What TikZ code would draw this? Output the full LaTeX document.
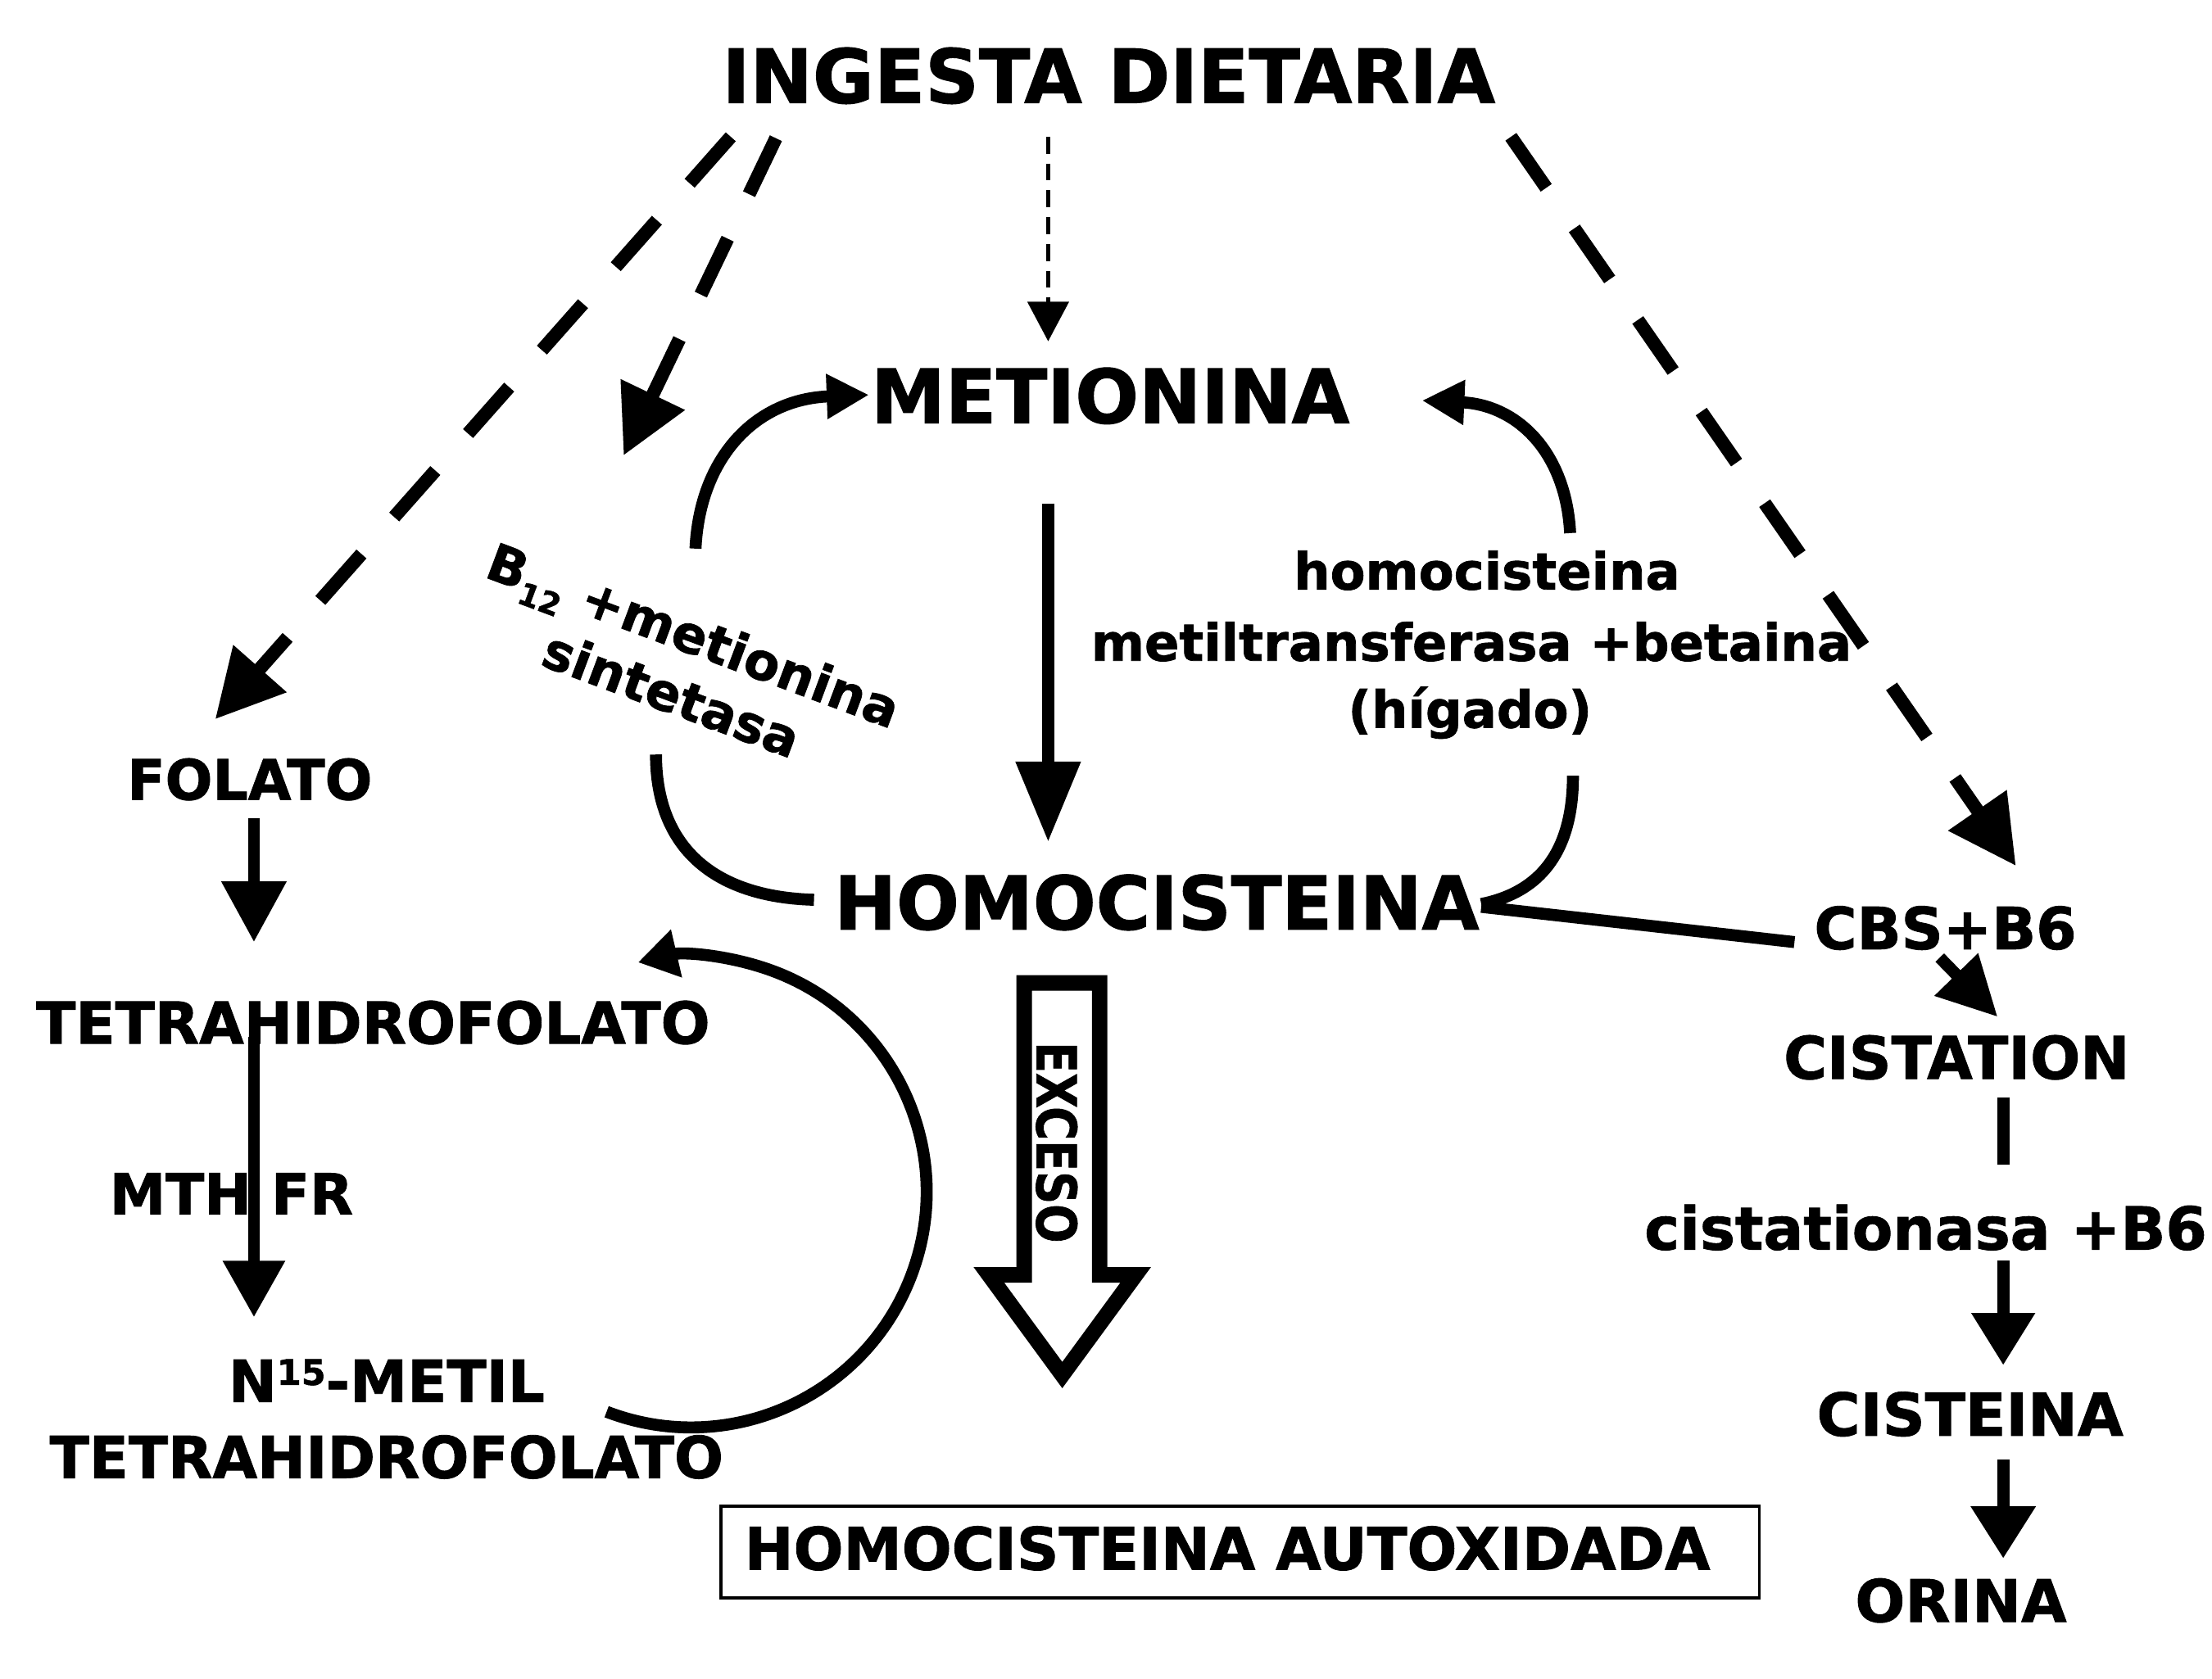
\documentclass[tikz,border=0pt]{standalone}
\usepackage{fontspec}
\setmainfont{DejaVu Sans}[BoldFeatures={FakeBold=1.2}]
\usetikzlibrary{arrows.meta}
\newcommand\fs[1]{\bfseries\fontsize{#1}{#1}\selectfont}
\begin{document}
\begin{tikzpicture}[x=1pt,y=1pt,
  lbl/.style={inner sep=0pt, anchor=base, font=\fs{#1}},
  flow/.style={line width=8.5pt},
  bigdash/.style={line width=9.5pt, dash pattern=on 44pt off 35pt, -{Triangle[length=48pt,width=48pt]}},
  thindash/.style={line width=2.5pt, dash pattern=on 12pt off 7pt, -{Triangle[length=28pt,width=29pt]}},
  curvearr/.style={line width=8.5pt, -{Triangle[length=30pt,width=30pt]}},
]
\fill[white] (0,0) rectangle (1568,-1190);
\useasboundingbox (0,0) rectangle (1568,-1190);

% ---- text nodes
\node[lbl=53] (ing) at (786,-73) {INGESTA DIETARIA};
\node[lbl=53] (met) at (787,-300) {METIONINA};
\node[lbl=52.5] (hom) at (820,-659) {HOMOCISTEINA};
\node[lbl=39.5] (fol) at (177,-567) {FOLATO};
\node[lbl=41] (thf) at (264.5,-740) {TETRAHIDROFOLATO};
\node[lbl=40] (mthfr) at (164,-861) {MTH FR};
\node[lbl=41] (nmet) at (274,-994) {N\raisebox{12pt}{\fs{25}15}-METIL};
\node[lbl=41] (mthf) at (274,-1048) {TETRAHIDROFOLATO};
\node[inner sep=0pt, rotate=-20.5, align=center, font=\bfseries\fontsize{36.5}{44.6}\selectfont] (b12)
  at (484,-471) {B\raisebox{-9pt}{\fs{22}12} +metionina\\sintetasa};
\node[lbl=36.3] (hA) at (1054,-418) {homocisteina};
\node[lbl=36.3] (hB) at (1043,-468.5) {metiltransferasa +betaina};
\node[lbl=36.3] (hC) at (1042,-516) {(hígado)};
\node[lbl=41.2] (cbs) at (1379,-673) {CBS+B6};
\node[lbl=41.8] (cist) at (1387,-765) {CISTATION};
\node[lbl=42] (cnasa) at (1365,-886) {cistationasa +B6};
\node[lbl=42] (cis) at (1396.5,-1018) {CISTEINA};
\node[lbl=41.6] (ori) at (1390,-1150) {ORINA};
\node[draw, line width=2pt, inner sep=0pt, minimum width=736pt, minimum height=65pt] (autbox) at (879,-1100.5) {};
\node[lbl=41.6] (aut) at (870,-1113) {HOMOCISTEINA AUTOXIDADA};

% ---- dashed arrows from the diet
\coordinate (dL1) at (518,-97);   \coordinate (dL2) at (152.5,-510);
\coordinate (dM1) at (550,-98);   \coordinate (dM2) at (442,-323);
\coordinate (dC1) at (743,-97);   \coordinate (dC2) at (743,-242);
\coordinate (dR1) at (1071,-97);  \coordinate (dR2) at (1429,-614);
\draw[bigdash] (dL1) -- (dL2);
\draw[bigdash] (dM1) -- (dM2);
\draw[thindash] (dC1) -- (dC2);
\draw[bigdash] (dR1) -- (dR2);

% ---- metionina -> homocisteina
\coordinate (mh1) at (743,-357); \coordinate (mh2) at (743,-597);
\draw[line width=9pt, -{Triangle[length=57pt,width=44pt]}] (mh1) -- (mh2);

% ---- cycles around metionina / homocisteina
\coordinate (lu1) at (493,-389); \coordinate (lu2) at (616,-280);
\draw[curvearr] (lu1) .. controls (496,-325) and (535,-283) .. (lu2);
\coordinate (ll1) at (465,-535); \coordinate (ll2) at (577,-638);
\draw[flow] (ll1) .. controls (465,-600) and (505,-636) .. (ll2);
\coordinate (ru1) at (1113,-378); \coordinate (ru2) at (1008,-284);
\draw[curvearr] (ru1) .. controls (1110,-320) and (1075,-287) .. (ru2);
\coordinate (rl1) at (1115,-550); \coordinate (rl2) at (1050,-641);
\draw[flow] (rl1) .. controls (1115,-600) and (1095,-632) .. (rl2);
\coordinate (cb1) at (1272,-668); \coordinate (cb2) at (1050,-643);
\draw[flow] (cb1) -- (cb2);

% ---- folate branch
\coordinate (f1) at (180,-580); \coordinate (f2) at (180,-668);
\draw[flow, -{Triangle[length=43pt,width=44pt]}] (f1) -- (f2);
\coordinate (t1) at (180,-735); \coordinate (t2) at (180,-934);
\draw[flow, -{Triangle[length=40pt,width=42pt]}] (t1) -- (t2);
\coordinate (c1) at (430,-1001);
\draw[flow, -{Triangle[length=28pt,width=33pt]}] (c1) arc[start angle=-111, end angle=103, radius=167];

% ---- transsulfuration branch
\coordinate (s1) at (1375,-679); \coordinate (s2) at (1416,-721);
\draw[flow, -{Triangle[length=42pt,width=41pt]}] (s1) -- (s2);
\coordinate (s3) at (1420,-778); \coordinate (s4) at (1420,-826);
\draw[line width=8.5pt] (s3) -- (s4);
\coordinate (s5) at (1420,-894); \coordinate (s6) at (1420,-968);
\draw[flow, -{Triangle[length=37pt,width=43pt]}] (s5) -- (s6);
\coordinate (s7) at (1420,-1035); \coordinate (s8) at (1420,-1105);
\draw[flow, -{Triangle[length=37pt,width=44pt]}] (s7) -- (s8);

% ---- hollow EXCESO arrow
\draw[line width=11pt, line join=miter] (726,-697) -- (779.5,-697) -- (779.5,-904) -- (805,-904)
  -- (753,-975) -- (701,-904) -- (726,-904) -- cycle;
\node[font=\fs{39}, rotate=-90, inner sep=0pt] (exc) at (749,-810) {\scalebox{0.83}[1]{EXCESO}};
\end{tikzpicture}
\end{document}
